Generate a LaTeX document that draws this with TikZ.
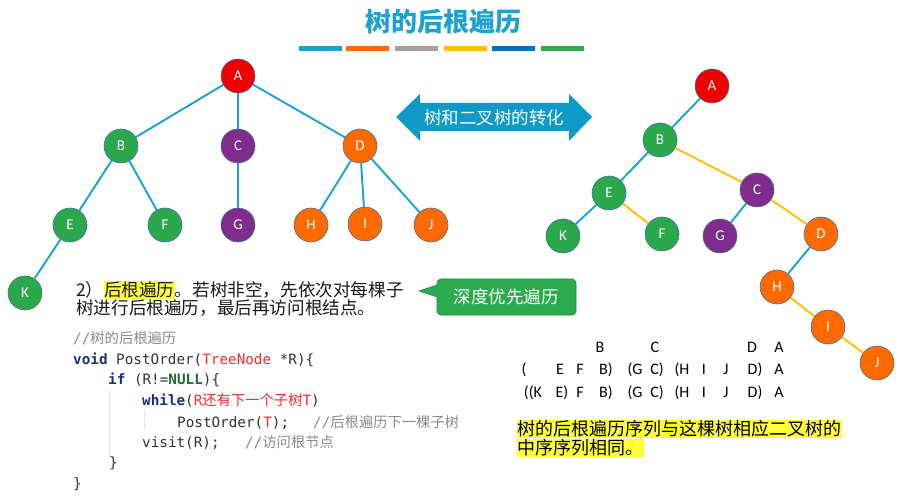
\documentclass[tikz,border=0pt]{standalone}
\usepackage{fontspec}
\setmainfont{Carlito}
\setmonofont{DejaVu Sans Mono}
\newfontfamily\cjk{Noto Sans CJK SC}
\definecolor{ttl}{HTML}{1BA1D2}
\definecolor{tblue}{HTML}{1BA1D2}
\definecolor{nred}{HTML}{EE0000}
\definecolor{ngreen}{HTML}{2CA84C}
\definecolor{npurple}{HTML}{7F2C8C}
\definecolor{norange}{HTML}{FF6A00}
\definecolor{nyellow}{HTML}{FFC000}
\definecolor{nborder}{HTML}{41719C}
\definecolor{hl}{HTML}{FFFF33}
\definecolor{bgray}{HTML}{A5A098}
\definecolor{bdblue}{HTML}{0070C0}
\definecolor{arrowc}{HTML}{0E9AC9}
\definecolor{cgreen}{HTML}{2BAA4E}
\definecolor{cgreenD}{HTML}{23874A}
\definecolor{kw}{HTML}{1B2F7A}
\definecolor{cm}{HTML}{8A8A8A}
\definecolor{cr}{HTML}{FF2A2A}
\definecolor{cg}{HTML}{1D6B33}
\definecolor{ctx}{HTML}{333333}
\definecolor{guide}{HTML}{E6E6E6}
\newcommand\cj[1]{{\cjk #1}}
\newcommand\hlbox[1]{{\setlength{\fboxsep}{0.5pt}\colorbox{hl}{#1}}}
\begin{document}
\begin{tikzpicture}[x=1pt,y=-1pt, every node/.style={inner sep=0pt},
  tn/.style={circle, minimum size=34pt, draw=nborder, line width=0.6pt, text=white, font=\fontsize{15}{15}\selectfont},
  rn/.style={tn, fill=nred}, gn/.style={tn, fill=ngreen}, pn/.style={tn, fill=npurple}, on/.style={tn, fill=norange},
  be/.style={draw=tblue, line width=1.9pt}, ye/.style={draw=nyellow, line width=1.9pt},
  code/.style={anchor=base west, text=ctx, font=\ttfamily\fontsize{14.3}{14.3}\selectfont},
  seq/.style={anchor=base, text=black, font=\fontsize{16}{16}\selectfont},
  para/.style={anchor=west, text=black!90, font=\cjk\fontsize{17.6}{17.6}\selectfont}]
\useasboundingbox (0,0) rectangle (908,497);
% title
\node[text=ttl, font=\cjk\bfseries\fontsize{26}{26}\selectfont] (title) at (443,22) {树的后根遍历};
\fill[tblue]   (299,46) rectangle (342,51);
\fill[norange] (346,46) rectangle (389,51);
\fill[bgray]   (395,46) rectangle (438,51);
\fill[nyellow] (444,46) rectangle (487,51);
\fill[bdblue]  (492,46) rectangle (535,51);
\fill[cgreen]  (541,46) rectangle (584,51);
% double arrow
\fill[arrowc] (396,117) -- (420,94) -- (420,103) -- (569,103) -- (569,94) -- (592,117) -- (569,141) -- (569,131) -- (420,131) -- (420,141) -- cycle;
\node[text=white, font=\cjk\fontsize{17.5}{17.5}\selectfont] (conv) at (494,118) {树和二叉树的转化};
% left tree
\node[rn] (A) at (238,76) {A};
\node[gn] (B) at (121,146) {B};
\node[pn] (C) at (238,146) {C};
\node[on] (D) at (360,146) {D};
\node[gn] (E) at (70,225) {E};
\node[gn] (F) at (165,225) {F};
\node[pn] (G) at (238,225) {G};
\node[on] (H) at (311,225) {H};
\node[on] (I) at (365,224) {I};
\node[on] (J) at (431,225) {J};
\node[gn] (K) at (25,293) {K};
\draw[be] (A) -- (B); \draw[be] (A) -- (C); \draw[be] (A) -- (D);
\draw[be] (B) -- (E); \draw[be] (B) -- (F); \draw[be] (C) -- (G);
\draw[be] (D) -- (H); \draw[be] (D) -- (I); \draw[be] (D) -- (J);
\draw[be] (E) -- (K);
% right tree
\node[rn] (bA) at (712,86) {A};
\node[gn] (bB) at (660,140) {B};
\node[gn] (bE) at (609,193) {E};
\node[pn] (bC) at (757,190) {C};
\node[gn] (bK) at (563,236) {K};
\node[gn] (bF) at (662,234) {F};
\node[pn] (bG) at (720,236) {G};
\node[on] (bD) at (821,234) {D};
\node[on] (bH) at (777,287) {H};
\node[on] (bI) at (828,327) {I};
\node[on] (bJ) at (877,363) {J};
\draw[be] (bA) -- (bB); \draw[be] (bB) -- (bE); \draw[ye] (bB) -- (bC);
\draw[be] (bE) -- (bK); \draw[ye] (bE) -- (bF); \draw[be] (bC) -- (bG);
\draw[ye] (bC) -- (bD); \draw[be] (bD) -- (bH); \draw[ye] (bH) -- (bI);
\draw[ye] (bI) -- (bJ);
% callout
\filldraw[fill=cgreen, draw=cgreenD, line width=0.6pt] (437,297) -- (419,291) -- (437,285) [rounded corners=4pt] -- (437,279) -- (576,279) -- (576,315) -- (437,315) [sharp corners] -- cycle;
\node[text=white, font=\cjk\fontsize{17.5}{17.5}\selectfont] (dfs) at (506,297) {深度优先遍历};
% paragraph
\node[para] (p1) at (76,290) {2）\hlbox{后根遍历}。若树非空，先依次对每棵子};
\node[para] (p2) at (76,308) {树进行后根遍历，最后再访问根结点。};
% code
\draw[guide, line width=0.8pt] (109,390) -- (109,457);
\draw[guide, line width=0.8pt] (144,410) -- (144,430);
\node[code, text=cm] (c0) at (73,343) {//\cj{树的后根遍历}};
\node[code] (c1) at (73,364) {{\bfseries\color{kw}void} PostOrder({\color{cr}TreeNode} *R)\{};
\node[code] (c2) at (108,384) {{\bfseries\color{kw}if} (R!={\bfseries\color{cg}NULL})\{};
\node[code] (c3) at (142,405) {{\bfseries\color{kw}while}({\color{cr}R\cj{还有下一个子树}T})};
\node[code] (c4) at (177,427) {PostOrder({\color{cr}T});};
\node[code, text=cm] (c4c) at (313,427) {//\cj{后根遍历下一棵子树}};
\node[code] (c5) at (142,447) {visit(R);};
\node[code, text=cm] (c5c) at (245,447) {//\cj{访问根节点}};
\node[code] (c6) at (109,467) {\}};
\node[code] (c7) at (73,488) {\}};
% sequences
\node[seq] (r1b) at (600,352) {B};
\node[seq] (r1c) at (655,352) {C};
\node[seq] (r1d) at (752,352) {D};
\node[seq] (r1a) at (779,352) {A};
\node[seq] (r2p) at (524,374) {(};
\node[seq] (r2e) at (560,374) {E};
\node[seq] (r2f) at (580,374) {F};
\node[seq] (r2b) at (606,374) {B)};
\node[seq] (r2g) at (635,374) {(G};
\node[seq] (r2c) at (657,374) {C)};
\node[seq] (r2h) at (682,374) {(H};
\node[seq] (r2i) at (704,374) {I};
\node[seq] (r2j) at (726,374) {J};
\node[seq] (r2d) at (755,374) {D)};
\node[seq] (r2a) at (779,374) {A};
\node[seq] (r3k) at (533,397) {((K};
\node[seq] (r3e) at (562,397) {E)};
\node[seq] (r3f) at (580,397) {F};
\node[seq] (r3b) at (606,397) {B)};
\node[seq] (r3g) at (635,397) {(G};
\node[seq] (r3c) at (657,397) {C)};
\node[seq] (r3h) at (682,397) {(H};
\node[seq] (r3i) at (704,397) {I};
\node[seq] (r3j) at (726,397) {J};
\node[seq] (r3d) at (755,397) {D)};
\node[seq] (r3a) at (779,397) {A};
% conclusion
\node[anchor=west, font=\cjk\fontsize{18}{18}\selectfont] (s1) at (517,429) {\hlbox{树的后根遍历序列与这棵树相应二叉树的}};
\node[anchor=west, font=\cjk\fontsize{18}{18}\selectfont] (s2) at (517,448) {\hlbox{中序序列相同。}};
\end{tikzpicture}
\end{document}
